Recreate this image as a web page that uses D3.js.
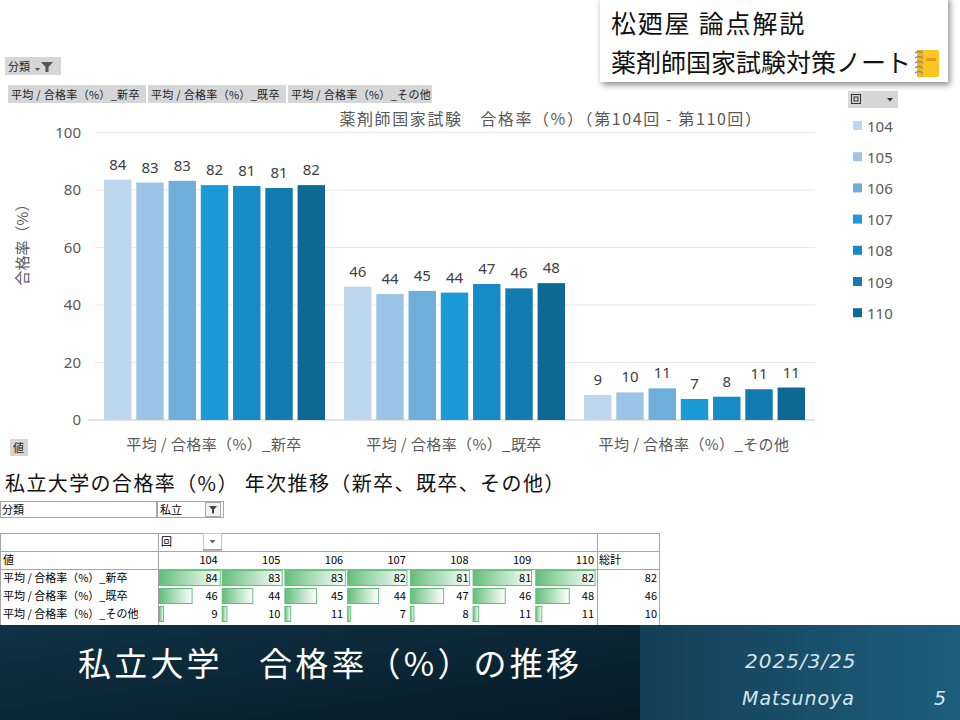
<!DOCTYPE html>
<html>
<head>
<meta charset="utf-8">
<script src="https://cdn.jsdelivr.net/npm/d3@7"></script>
<style>
  html, body { margin: 0; padding: 0; background: #fff; }
  svg { display: block; font-family: "Noto Sans CJK JP", "Noto Sans", sans-serif; }
</style>
</head>
<body>
<svg id="slide" width="960" height="720"></svg>
<script>
// values
const categories = ['平均 / 合格率（%）_新卒', '平均 / 合格率（%）_既卒', '平均 / 合格率（%）_その他']
const years = ['104', '105', '106', '107', '108', '109', '110']
const shinsotsu = [83.6, 82.6, 83.2, 81.7, 81.4, 80.7, 81.7]
const kisotsu = [46.4, 43.8, 44.9, 44.3, 47.3, 45.8, 47.6]
const sonota = [8.7, 9.6, 11.0, 7.3, 8.1, 10.7, 11.3]
const totals = [82, 46, 10]
const yTicks = [0, 20, 40, 60, 80, 100]
const colors = ['#bdd7ee', '#9dc3e6', '#6daedb', '#1a9ad6', '#178bc6', '#127cb1', '#0e6a94']

const series = [shinsotsu, kisotsu, sonota]
const fmt = d3.format('.0f')

const svg = d3.select('svg#slide')
const defs = svg.append('defs')

// ---------- header box (top right) ----------
let shadow = defs.append('filter').attr('id', 'shadow').attr('x', '-10%').attr('y', '-10%').attr('width', '130%').attr('height', '140%')
shadow.append('feDropShadow').attr('dx', 2).attr('dy', 3).attr('stdDeviation', 3).attr('flood-color', '#000').attr('flood-opacity', 0.45)

svg.append('rect').attr('x', 600).attr('y', -4).attr('width', 348).attr('height', 86)
   .attr('fill', '#fff').attr('filter', 'url(#shadow)')
svg.append('text').attr('x', 611).attr('y', 33).attr('font-size', 25).attr('letter-spacing', 1.8).attr('fill', '#111').text('松廼屋 論点解説')
svg.append('text').attr('x', 611).attr('y', 72).attr('font-size', 25).attr('fill', '#111').text('薬剤師国家試験対策ノート')

// notebook icon
let note = svg.append('g').attr('transform', 'translate(915,50)')
note.append('rect').attr('x', 2).attr('y', 0).attr('width', 22).attr('height', 27).attr('rx', 2).attr('fill', '#f9c623')
note.append('rect').attr('x', 2).attr('y', 0).attr('width', 6).attr('height', 27).attr('fill', '#f3b51a')
note.append('rect').attr('x', 11).attr('y', 8).attr('width', 10).attr('height', 3).attr('fill', '#e39a12')
d3.range(5).forEach(i => {
    note.append('path').attr('d', `M0,${3 + i * 5} q4,-3 8,0`).attr('fill', 'none').attr('stroke', '#888').attr('stroke-width', 1.3)
})

// ---------- pivot chart buttons ----------
function button(x, y, w, h, label, size, spacing) {
    let g = svg.append('g')
    g.append('rect').attr('x', x).attr('y', y).attr('width', w).attr('height', h).attr('fill', '#d6d6d6')
    g.append('text').attr('x', x + 3).attr('y', y + h - 4.5).attr('font-size', size)
     .attr('letter-spacing', spacing || 0).attr('fill', '#222').text(label)
    return g
}
let b = button(5, 57, 56, 18, '分類', 11)
b.append('path').attr('d', 'M41,62 h12 l-4.5,5 v5 h-3 v-5 z').attr('fill', '#555')
b.append('path').attr('d', 'M35,68 h5 l-2.5,3 z').attr('fill', '#555')

let btnX = [8, 148, 288]
let btnW = [138, 138, 144]
categories.forEach((c, i) => button(btnX[i], 85, btnW[i], 18, c, 11, 0.3))

button(10, 439, 18, 17, '値', 11)

// ---------- bar chart ----------
let x0 = d3.scaleBand().domain(categories).range([94, 814])
let x1 = d3.scaleBand().domain(years).range([10, 231]).paddingInner(0.15)
let y = d3.scaleLinear().domain([0, 100]).range([420, 132.5])

let chart = svg.append('g')

chart.selectAll('line.grid').data(yTicks.filter(d => d > 0)).join('line')
     .attr('class', 'grid')
     .attr('x1', 95).attr('x2', 815)
     .attr('y1', d => y(d)).attr('y2', d => y(d))
     .attr('stroke', '#e8e8e8').attr('stroke-width', 1)

let yAxis = chart.append('g').attr('transform', 'translate(81,0)')
    .call(d3.axisLeft(y).tickValues(yTicks).tickSize(0).tickPadding(0))
yAxis.select('.domain').remove()
yAxis.selectAll('text').attr('font-size', 15).attr('fill', '#595959').attr('font-family', '"Noto Sans", sans-serif')

chart.append('line').attr('x1', 88).attr('x2', 815).attr('y1', y(0)).attr('y2', y(0))
     .attr('stroke', '#c8c8c8')

let groups = chart.selectAll('g.group').data(categories).join('g')
    .attr('class', 'group')
    .attr('transform', d => `translate(${x0(d)},0)`)

groups.selectAll('rect').data((d, i) => series[i].map((v, j) => ({year: years[j], v}))).join('rect')
      .attr('x', d => x1(d.year))
      .attr('width', x1.bandwidth())
      .attr('y', d => y(d.v))
      .attr('height', d => y(0) - y(d.v))
      .attr('fill', (d, j) => colors[j])

groups.selectAll('text.val').data((d, i) => series[i].map((v, j) => ({year: years[j], v}))).join('text')
      .attr('class', 'val')
      .attr('x', d => x1(d.year) + x1.bandwidth() / 2)
      .attr('y', d => y(d.v) - 10)
      .attr('text-anchor', 'middle')
      .attr('font-size', 15)
      .attr('font-family', '"Noto Sans", sans-serif')
      .attr('fill', '#404040')
      .text(d => fmt(d.v))

chart.selectAll('text.cat').data(categories).join('text')
     .attr('class', 'cat')
     .attr('x', d => x0(d) + x0.bandwidth() / 2)
     .attr('y', 450)
     .attr('text-anchor', 'middle')
     .attr('font-size', 15)
     .attr('letter-spacing', 0.4)
     .attr('fill', '#595959')
     .text(d => d)

chart.append('text').attr('x', 551).attr('y', 125).attr('text-anchor', 'middle')
     .attr('font-size', 16).attr('letter-spacing', 1.6).attr('fill', '#595959')
     .text('薬剤師国家試験　合格率（%）（第104回 - 第110回）')

chart.append('text').attr('transform', 'translate(28,241) rotate(-90)').attr('text-anchor', 'middle')
     .attr('font-size', 15).attr('fill', '#595959').text('合格率（%）')

// legend
let lg = svg.append('g')
lg.append('rect').attr('x', 848).attr('y', 91).attr('width', 50).attr('height', 17).attr('fill', '#d6d6d6')
lg.append('rect').attr('x', 851.5).attr('y', 94.5).attr('width', 9).attr('height', 9).attr('fill', 'none').attr('stroke', '#333')
lg.append('rect').attr('x', 854).attr('y', 97).attr('width', 4).attr('height', 4).attr('fill', 'none').attr('stroke', '#333')
lg.append('path').attr('d', 'M887,98 h6 l-3,3.5 z').attr('fill', '#333')

let items = lg.selectAll('g.item').data(years).join('g')
    .attr('class', 'item')
    .attr('transform', (d, i) => `translate(853,${126 + i * 31.2})`)
items.append('rect').attr('x', 0).attr('y', -5).attr('width', 9).attr('height', 9).attr('fill', (d, i) => colors[i])
items.append('text').attr('x', 14).attr('y', 5.5).attr('font-size', 15).attr('fill', '#595959')
     .attr('font-family', '"Noto Sans", sans-serif').text(d => d)

// ---------- pivot table ----------
svg.append('text').attr('x', 5).attr('y', 491).attr('font-size', 20).attr('letter-spacing', 1.4).attr('fill', '#111')
   .text('私立大学の合格率（%） 年次推移（新卒、既卒、その他）')

let tb = svg.append('g').attr('font-size', 11).attr('fill', '#000')

tb.append('rect').attr('x', 0.5).attr('y', 501.5).attr('width', 156).attr('height', 16).attr('fill', '#fff').attr('stroke', '#a6a6a6')
tb.append('rect').attr('x', 157.5).attr('y', 501.5).attr('width', 66).attr('height', 16).attr('fill', '#fff').attr('stroke', '#a6a6a6')
tb.append('text').attr('x', 2).attr('y', 514).text('分類')
tb.append('text').attr('x', 160).attr('y', 514).text('私立')
tb.append('rect').attr('x', 205.5).attr('y', 502.5).attr('width', 15).attr('height', 14).attr('fill', '#f2f2f2').attr('stroke', '#a6a6a6')
tb.append('path').attr('d', 'M209,506 h8 l-3,3.5 v4 h-2 v-4 z').attr('fill', '#444')

let colX = d3.scaleBand().domain(years).range([158, 597])
let rowY = d3.scaleBand().domain(categories).range([569, 623])
let tableTop = 533, tableRight = 660

tb.append('rect').attr('x', 0.5).attr('y', tableTop + 0.5).attr('width', tableRight - 1).attr('height', 95)
  .attr('fill', '#fff').attr('stroke', '#a6a6a6')
;[551, 569].forEach(v => tb.append('line').attr('x1', 0).attr('x2', tableRight).attr('y1', v + 0.5).attr('y2', v + 0.5).attr('stroke', '#a6a6a6'))
;[158, 597].forEach(v => tb.append('line').attr('x1', v + 0.5).attr('x2', v + 0.5).attr('y1', tableTop).attr('y2', 628).attr('stroke', '#a6a6a6'))

tb.append('text').attr('x', 161).attr('y', 546).text('回')
tb.append('rect').attr('x', 203.5).attr('y', 533.5).attr('width', 18).attr('height', 16).attr('fill', '#fff').attr('stroke', '#c8c8c8')
tb.append('path').attr('d', 'M209.5,540 h6 l-3,3.5 z').attr('fill', '#666')
tb.append('line').attr('x1', 203).attr('x2', 222).attr('y1', 550).attr('y2', 550).attr('stroke', '#777')

tb.append('text').attr('x', 3).attr('y', 564).text('値')
tb.selectAll('text.yr').data(years).join('text')
  .attr('class', 'yr')
  .attr('x', d => colX(d) + colX.bandwidth() - 3)
  .attr('y', 564).attr('text-anchor', 'end').text(d => d)
tb.append('text').attr('x', 599).attr('y', 564).text('総計')

let grad = defs.append('linearGradient').attr('id', 'databar')
grad.append('stop').attr('offset', '0%').attr('stop-color', '#63be7b')
grad.append('stop').attr('offset', '100%').attr('stop-color', '#ffffff')

let allVals = series.flat()
let barLen = d3.scaleLinear().domain(d3.extent(allVals)).range([3, colX.bandwidth() - 2])

categories.forEach((c, i) => {
    let yy = rowY(c)
    tb.append('text').attr('x', 3).attr('y', yy + 13).text(c)
    let cells = tb.append('g')
    series[i].forEach((v, j) => {
        let cx = colX(years[j])
        cells.append('rect').attr('x', cx + 1.5).attr('y', yy + 1.5)
             .attr('width', barLen(v)).attr('height', rowY.bandwidth() - 3)
             .attr('fill', 'url(#databar)').attr('stroke', '#63be7b').attr('stroke-width', 1)
        cells.append('text').attr('x', cx + colX.bandwidth() - 3).attr('y', yy + 13)
             .attr('text-anchor', 'end').text(fmt(v))
    })
    tb.append('text').attr('x', tableRight - 3).attr('y', yy + 13).attr('text-anchor', 'end').text(totals[i])
})

// ---------- bottom banner ----------
let bg1 = defs.append('linearGradient').attr('id', 'band1').attr('x1', 0).attr('x2', 1).attr('y1', 0).attr('y2', 1)
bg1.append('stop').attr('offset', '0%').attr('stop-color', '#0f3345')
bg1.append('stop').attr('offset', '100%').attr('stop-color', '#071a26')
let bg2 = defs.append('linearGradient').attr('id', 'band2').attr('x1', 0).attr('x2', 1).attr('y1', 0).attr('y2', 0)
bg2.append('stop').attr('offset', '0%').attr('stop-color', '#143f56')
bg2.append('stop').attr('offset', '100%').attr('stop-color', '#1d5e7c')

svg.append('rect').attr('x', 0).attr('y', 625).attr('width', 640).attr('height', 95).attr('fill', 'url(#band1)')
svg.append('rect').attr('x', 640).attr('y', 625).attr('width', 320).attr('height', 95).attr('fill', 'url(#band2)')

svg.append('text').attr('x', 78).attr('y', 676).attr('font-size', 33).attr('letter-spacing', 3.2).attr('fill', '#fff')
   .text('私立大学　合格率（%）の推移')

let hand = svg.append('g').attr('fill', '#d5e6ef').attr('font-family', '"DejaVu Sans", sans-serif')
   .attr('font-style', 'italic').attr('font-weight', 300)
hand.append('text').attr('x', 745).attr('y', 668).attr('font-size', 20).attr('letter-spacing', 1).text('2025/3/25')
hand.append('text').attr('x', 742).attr('y', 705).attr('font-size', 19).attr('letter-spacing', 1).text('Matsunoya')
hand.append('text').attr('x', 934).attr('y', 705).attr('font-size', 19).text('5')
</script>
</body>
</html>
